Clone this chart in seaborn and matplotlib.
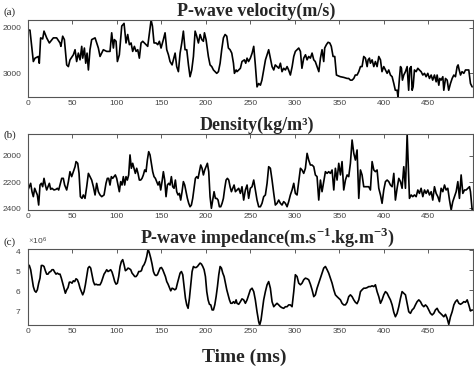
import numpy as np
import pandas as pd
import matplotlib
matplotlib.use('Agg')
import matplotlib.pyplot as plt
import seaborn as sns

# ---- P-wave velocity (m/s) ----
vel_t = [0, 2.2, 6, 7.9, 11.6, 12.7, 14.2, 16.5, 18, 21,
         24, 28.5, 32.2, 36, 37, 39, 40.9, 43.5, 45.4, 47.2,
         51, 52.9, 54.7, 56.6, 58.5, 60.4, 61.5, 63.4, 64.9, 66.4,
         67.9, 69.7, 71.6, 75.4, 79.1, 81, 84.7, 88.5, 92.2, 94.1,
         96, 97.1, 99, 100.5, 102.7, 105.4, 108, 110.2, 112.1, 114,
         115.9, 117.7, 119.6, 121.5, 123.4, 125.2, 127.1, 129, 132.7, 134.6,
         136.5, 138.4, 139.9, 141.7, 144, 145.9, 147.7, 149.6, 152.2, 154.1,
         156, 157.9, 159.7, 162, 163.5, 165.4, 167.2, 169.1, 171, 172.9,
         174.7, 176.6, 178.5, 180.4, 182.2, 184.1, 186, 187.9, 189.7, 191.6,
         193.5, 195.4, 197.2, 198.4, 200.2, 202.8, 204.7, 206.6, 208.5, 212.2,
         214.1, 216, 217.8, 219.7, 221.6, 223.5, 225.3, 227.2, 229.1, 231,
         232.1, 234,
         235, 238.8, 240.6, 243.3, 244.8, 246.3, 248, 250, 252, 253.8,
         255.6, 257.5, 259.4, 261.3, 263, 265, 267, 268.8, 270.6, 272.5,
         274.4, 276.3, 278, 280, 282, 283.8, 285.6, 287.5, 289.4, 291.3,
         293, 295, 297, 298.8, 300.6, 302.5, 304.4, 306.3, 308, 310,
         312, 313.8, 315.6, 317.5, 319.4, 321.3, 323, 325, 327, 328.8,
         330.6, 332.5, 333.6, 335.5, 337.4, 339.3, 341, 343, 344.9, 346.8,
         349.4, 351.3, 355, 358.8, 360.6, 362.5, 364.4, 366.3, 368, 370,
         371.9, 373.8, 375.6, 377.5, 379.4, 381.3, 382.4, 383.9, 385, 386.9,
         388.8, 390.6, 392.5, 394.4, 396.3, 398, 400, 401.9, 403.8, 405.6,
         407.5, 409.4, 411.3, 413, 415, 416, 417.6, 418.8, 419.9, 421,
         422.5, 424.4, 426.3, 428, 429.3, 430.8, 431.9, 433, 434.5, 436.4,
         438.3, 440, 442, 443.9, 445.8, 447.6, 449.5, 451.4, 453.3, 455,
         457, 458.9, 460, 461.9, 463, 464.5, 466.4, 467.5, 469.4, 471.3,
         473, 475, 476.9, 478.8, 480.6, 482.5, 483.6, 484.8, 486.3, 488,
         490, 491.9, 493.8, 495.6, 497.5, 499.4]
vel = [2052, 2052, 2741, 2667, 2630, 2778, 2222, 2245, 2074, 2222,
       2334, 2222, 2222, 2334, 2408, 2185, 2260, 2815, 2852, 2704,
       2593, 2482, 2741, 2556, 2704, 2408, 2667, 2445, 2778, 2556,
       2926, 2482, 2260, 2222, 2445, 2630, 2482, 2519, 2519, 2111,
       2445, 2260, 2297, 2741, 2593, 1963, 1904, 2334, 2148, 2371,
       2334, 2519, 2408, 2519, 2482, 2667, 2334, 2297, 2371, 2408,
       2111, 1830, 1963, 2334, 2334, 2371, 2297, 2445, 2260, 2111,
       2482, 2593, 2741, 2815, 2704, 2556, 2852, 2963, 2556, 2334,
       2074, 2482, 2482, 2815, 3074, 2926, 2630, 2074, 2185, 2334,
       2148, 2260, 2297, 2111, 2260, 2630, 2815, 2852, 2926, 3000,
       2963, 2778, 2482, 2222, 2148, 2185, 2445, 2482, 2556, 2778,
       3000, 2926,
       2963, 2889, 2741, 2704, 2778, 2667, 2741, 2667, 2556, 2408,
       2815, 3297, 3223, 3260, 3149, 2926, 2704, 2593, 2482, 2667,
       2852, 2926, 2815, 2852, 2889, 2778, 2963, 2889, 2926, 2852,
       2926, 3037, 2852, 2630, 2519, 2482, 2445, 2519, 2889, 2667,
       2593, 2704, 2630, 2667, 2556, 2704, 2741, 2852, 2963, 2667,
       2482, 2741, 2445, 2371, 2319, 2334, 2408, 2630, 2630, 3037,
       3060, 3074, 3089, 3112, 3112, 3149, 3149, 3112, 3037, 3037,
       2963, 2852, 2852, 2630, 2667, 2852, 2704, 2667, 2778, 2704,
       2852, 2741, 2852, 2630, 2704, 2963, 2852, 2926, 3000, 2926,
       3037, 3074, 3223, 3371, 3371, 3519, 3112, 2852, 2889, 3149,
       3037, 2963, 2852, 3371, 2889, 2852, 3371, 3297, 2926, 2963,
       2889, 2926, 2963, 3037, 3000, 3074, 3000, 3112, 3037, 3149,
       3037, 3186, 3037, 3260, 3112, 3149, 3074, 3371, 3112, 3149,
       3371, 3223, 3112, 3037, 3074, 2852, 2815, 2926, 3037, 2963,
       3000, 2926, 2926, 2926, 3223, 3297]

# ---- Density (kg/m3) ----
den_t = [0, 1.5, 3, 4.5, 6, 7.5, 9, 10.5, 12, 13.5,
         15, 16.5, 18, 19.5, 21, 22.5, 24, 25.5, 27, 29.2,
         31.5, 33, 34.5, 36, 37.9, 39.7, 41.2, 43.5, 45.4, 47.2,
         49.1, 51, 52.9, 54, 55.9, 57.4, 58.9, 60.7, 62.2, 64.1,
         66, 67.9, 69.7, 71.6, 73.5, 75.4, 77.2, 79.1, 81, 82.9,
         85.5, 87.7, 89.2, 90.7, 92.2, 93.7, 95.2, 96.7, 98.2, 99.7,
         101.2, 102.7, 104.2, 105.7, 107.2, 108.7, 110.2, 111.7, 113.2, 114.7,
         116.2, 117.7, 119.2, 120.7, 122.2, 123.7, 125.2, 126.7, 128.2, 129.7,
         131.2, 132.7, 134.2, 135.7, 137.2, 138.7, 140.2, 141.7, 143.2, 144.7,
         146.2, 147.7, 149.2, 150.7, 152.2, 153.7, 155.2, 156.7, 158.2, 159.7,
         161.2, 162.7, 164.2, 165.7, 167.2, 168.7, 170.2, 171.7, 173.2, 174.7,
         176.2, 177.7, 179.2, 180.7, 182.2, 183.7, 185.2, 186.7, 188.2, 189.7,
         191.2, 192.7, 194.2, 195.7, 197.2, 198.7, 200.2, 201.7, 203.2, 204.7,
         206.2, 207.7, 209.2, 210.7, 212.2, 213.7, 215.2, 216.7, 218.2, 219.7,
         221.2, 222.7, 224.2, 225.7, 227.2, 228.7, 230.2, 231.7, 233.2,
         235, 236.9, 238.8, 240.6, 242.5, 244.4, 246.3, 248.1, 250, 251.9,
         253.8, 255.6, 257.5, 259.4, 261.3, 263.1, 265, 266.9, 268.8, 270.6,
         272.5, 274.4, 276.3, 278.1, 280, 281.9, 283.8, 285.6, 287.5, 289.4,
         291.3, 293.1, 295, 296.9, 298.8, 300.6, 302.5, 304.4, 306.3, 308.1,
         310, 311.9, 313.8, 315.6, 317.5, 319.4, 321.3, 323.1, 325, 326.9,
         328.8, 330.6, 332.5, 334.4, 336.3, 338.1, 340, 341.9, 343.8, 345.6,
         347.5, 349.4, 351.3, 353.1, 355, 356.9, 358.8, 360.6, 362.5, 364.4,
         366.3, 368.1, 370, 371.9, 373.8, 375.6, 377.5, 379.4, 381.3, 383.1,
         385, 386.9, 388.8, 390.6, 392.5, 394.4, 396.3, 398.1, 400, 401.9,
         403.8, 405.6, 407.5, 409.4, 411.3, 413.1, 415, 416.9, 418.8, 420.6,
         422.5, 424.4, 426.3, 427.4, 428.9, 430.8, 432.6, 434.5, 436.4, 438.3,
         440.1, 442, 443.9, 445.8, 447.6, 449.5, 451.4, 453.3, 455.1, 457,
         458.9, 460.8, 462.6, 464.5, 466.4, 468.3, 470.1, 472, 473.9, 475.8,
         477.6, 479.5, 481.4, 483.3, 485.1, 487, 488.9, 490.8, 492.6, 494.5,
         496.4, 497.5, 499.4]
den = [2260, 2235, 2209, 2273, 2311, 2247, 2273, 2298, 2375, 2222,
       2209, 2235, 2171, 2222, 2260, 2235, 2209, 2255, 2247, 2260,
       2255, 2247, 2260, 2222, 2171, 2171, 2222, 2260, 2196, 2120,
       2158, 2120, 2082, 2043, 2056, 2133, 2311, 2324, 2298, 2324,
       2235, 2133, 2158, 2184, 2235, 2298, 2209, 2273, 2298, 2311,
       2298, 2209, 2171, 2171, 2222, 2158, 2171, 2158, 2145, 2171,
       2222, 2273, 2196, 2222, 2158, 2222, 2158, 2184, 2145, 1992,
       2094, 2056, 2094, 2133, 2094, 2133, 2184, 2184, 2171, 2145,
       2107, 2120, 2031, 1967, 1992, 2056, 2120, 2158, 2171, 2196,
       2222, 2196, 2260, 2196, 2120, 2184, 2311, 2222, 2209, 2222,
       2158, 2235, 2247, 2184, 2273, 2298, 2286, 2337, 2273, 2196,
       2222, 2273, 2324, 2362, 2388, 2375, 2324, 2247, 2171, 2158,
       2171, 2120, 2069, 2094, 2145, 2107, 2082, 2056, 2120, 2311,
       2400, 2337, 2273, 2324, 2324, 2337, 2388, 2388, 2362, 2324,
       2247, 2184, 2171, 2184, 2235, 2273, 2247, 2222, 2273,
       2260, 2247, 2286, 2235, 2337, 2260, 2222, 2324, 2247, 2235,
       2184, 2260, 2337, 2388, 2388, 2362, 2311, 2298, 2209, 2082,
       2094, 2184, 2286, 2375, 2362, 2337, 2362, 2375, 2349, 2362,
       2388, 2349, 2298, 2260, 2209, 2286, 2298, 2196, 2094, 2107,
       2133, 2094, 1980, 2031, 2069, 2069, 2082, 2145, 2158, 2337,
       2184, 2273, 2196, 2120, 2133, 2120, 2133, 2107, 2260, 2094,
       2184, 2056, 2145, 2043, 2260, 2184, 2145, 2158, 2056, 1878,
       1980, 2031, 1954, 2324, 2107, 2145, 2235, 2235, 2235, 2235,
       2260, 2043, 2107, 2120, 2107, 2247, 2298, 2362, 2260, 2196,
       2184, 2196, 2222, 2235, 2133, 2337, 2247, 2171, 2196, 2247,
       2082, 2247, 1832, 2031, 2324, 2298, 2311, 2298, 2311, 2260,
       2286, 2247, 2311, 2260, 2286, 2260, 2298, 2273, 2337, 2235,
       2286, 2311, 2349, 2247, 2273, 2222, 2260, 2247, 2337, 2413,
       2349, 2311, 2273, 2196, 2324, 2145, 2286, 2260, 2260, 2247,
       2235, 2273, 2413]

# ---- P-wave impedance (x 10^6) ----
imp_t = [0, 1.5, 3, 4.5, 6, 7.5, 9, 10.5, 12, 13.5,
         15, 16.5, 18, 19.5, 21, 22.5, 24, 25.5, 27, 28.5,
         30, 31.5, 33, 34.5, 36, 37.5, 39, 40.5, 42, 43.5,
         45, 46.5, 48, 49.5, 51, 52.5, 54, 55.5, 57, 58.5,
         60, 61.5, 63, 64.5, 66, 67.5, 69, 70.5, 72, 73.5,
         75, 76.5, 78, 79.5, 81, 82.5, 84, 85.5, 87, 88.5,
         90, 91.5, 93, 94.5, 96, 97.5, 99, 100.5, 102, 103.5,
         105, 106.5, 108, 109.5, 111, 112.5, 114, 115.5, 117, 118.5,
         120, 121.5, 123, 124.5, 126, 127.5, 129, 130.5, 132, 133.5,
         135, 136.5, 138, 139.5, 141, 142.5, 144, 145.5, 147, 148.5,
         150, 151.5, 153, 154.5, 156, 157.5, 159, 160.5, 162, 163.5,
         165, 166.5, 168, 169.5, 171, 172.5, 174, 175.5, 177, 178.5,
         180, 181.5, 183, 184.5, 186, 187.5, 189, 190.5, 192, 193.5,
         195, 196.5, 198, 199.5, 201, 202.5, 204, 205.5, 207, 208.5,
         210, 211.5, 213, 214.5, 216, 217.5, 219, 220.5, 222, 223.5,
         225, 226.5, 228, 229.5, 231, 232.5, 234,
         235, 236.9, 238.8, 240.6, 242.5, 244.4, 246.3, 248.1, 250, 251.9,
         253.8, 255.6, 257.5, 259.4, 260.5, 262, 263.5, 265, 266.9, 268.8,
         270.6, 272.5, 274.4, 276.3, 278.1, 280, 281.9, 283.8, 285.6, 287.5,
         289.4, 291.3, 293.1, 295, 296.9, 298.8, 300.6, 302.5, 304.4, 306.3,
         308.1, 310, 311.9, 313.8, 315.6, 317.5, 319.4, 321.3, 323.1, 325,
         326.9, 328.8, 330.6, 332.5, 334.4, 336.3, 338.1, 340, 341.9, 343.8,
         345.6, 347.5, 349.4, 351.3, 353.1, 355, 356.9, 358.8, 360.6, 362.5,
         364.4, 366.3, 368.1, 370, 371.9, 373.8, 375.6, 377.5, 379.4, 381.3,
         383.1, 385, 386.9, 388.8, 390.6, 392.5, 394.4, 396.3, 398.1, 400,
         401.9, 403.8, 405.6, 407.5, 409.4, 411.3, 413.1, 415, 416.9, 418.8,
         420.6, 422.5, 424.4, 426.3, 428.1, 430, 431.9, 433.8, 435.6, 437.5,
         439.4, 441.3, 443.1, 445, 446.9, 448.8, 450.6, 452.5, 454.4, 456.3,
         458.1, 460, 461.9, 463.8, 465.6, 467.5, 469.4, 471.3, 473.1, 475,
         476.9, 478.8, 480.6, 482.5, 484.4, 486.3, 488.1, 490, 491.9, 493.8,
         495.6, 497.5, 499.4]
imp = [4.73, 4.77, 4.98, 5.40, 5.82, 6.03, 6.10, 5.98, 5.65, 5.40,
       4.77, 4.77, 4.82, 5.03, 5.20, 5.20, 5.10, 5.07, 4.98, 4.98,
       5.10, 5.20, 5.15, 5.20, 5.20, 5.40, 5.65, 5.90, 6.15, 5.98,
       5.87, 5.60, 5.60, 5.65, 5.53, 5.57, 5.43, 5.48, 5.65, 5.90,
       6.07, 6.23, 6.07, 5.73, 5.32, 4.90, 4.82, 4.90, 5.23, 5.57,
       5.73, 5.70, 5.73, 5.73, 5.73, 5.60, 5.40, 5.20, 5.10, 4.98,
       5.07, 5.03, 4.98, 5.10, 5.32, 5.57, 5.70, 5.65, 5.32, 4.82,
       4.57, 4.48, 4.73, 5.03, 4.98, 4.90, 4.93, 4.98, 5.15, 5.23,
       5.32, 5.32, 5.23, 5.07, 5.07, 5.03, 4.82, 4.73, 4.57, 4.32,
       3.95, 4.15, 4.40, 4.70, 5.07, 5.23, 5.27, 5.23, 5.07, 4.90,
       4.87, 4.98, 5.15, 5.32, 5.57, 5.70, 5.87, 6.03, 5.90, 5.93,
       5.98, 5.93, 5.65, 5.40, 5.15, 5.07, 5.23, 5.82, 6.40, 6.73,
       6.90, 6.40, 5.73, 5.07, 4.82, 4.87, 4.87, 4.82, 4.73, 4.65,
       4.70, 4.82, 4.98, 5.32, 6.07, 6.48, 6.70, 6.73, 6.98, 6.98,
       6.73, 6.32, 5.82, 5.23, 4.82, 4.90, 5.15, 5.32, 5.65, 5.98,
       6.23, 6.48, 6.65, 6.65, 6.57, 6.65, 6.48,
       6.65, 6.70, 6.57, 6.43, 6.48, 6.65, 6.48, 6.23, 5.98, 5.90,
       6.07, 6.48, 7.07, 7.57, 7.73, 7.48, 6.98, 6.48, 6.07, 5.73,
       5.57, 5.90, 6.57, 6.82, 6.73, 6.65, 6.73, 6.82, 6.87, 6.90,
       6.82, 6.82, 6.73, 6.73, 6.82, 6.07, 5.23, 5.32, 5.65, 5.73,
       5.65, 5.48, 5.40, 5.43, 5.48, 5.70, 5.98, 6.32, 6.23, 5.90,
       5.65, 5.40, 5.15, 4.90, 4.82, 4.98, 5.15, 5.40, 5.65, 5.98,
       6.23, 6.32, 6.40, 6.48, 6.65, 6.73, 6.73, 6.60, 6.32, 6.23,
       6.32, 6.48, 6.60, 6.67, 6.48, 6.07, 5.98, 5.90, 5.90, 5.87,
       5.82, 5.82, 5.78, 5.82, 5.73, 6.07, 6.32, 6.65, 6.48, 6.23,
       6.07, 6.15, 6.32, 6.48, 6.73, 7.10, 7.32, 7.15, 6.82, 6.40,
       6.07, 6.15, 6.23, 6.65, 7.07, 7.15, 6.98, 6.90, 6.73, 6.57,
       6.48, 6.57, 6.73, 6.82, 6.73, 6.82, 6.98, 7.15, 7.23, 7.15,
       6.98, 6.90, 7.07, 7.15, 7.23, 7.32, 7.20, 7.40, 7.70, 7.32,
       7.07, 6.73, 6.57, 6.48, 6.65, 6.70, 6.65, 6.57, 6.60, 6.48,
       6.73, 7.03, 6.98]

x_ticks = [0, 50, 100, 150, 200, 250, 300, 350, 400, 450]
titles = ['P-wave velocity(m/s)', 'Density(kg/m\u00b3)',
          r'P-wave impedance(m.s$^{\mathbf{-1}}$.kg.m$^{\mathbf{-3}}$)']
tags = ['(a)', '(b)', '(c)']

sns.set_style('white')
plt.rcParams['font.family'] = ['Liberation Sans', 'DejaVu Sans']
plt.rcParams['mathtext.fontset'] = 'custom'
plt.rcParams['mathtext.rm'] = 'Liberation Serif'
plt.rcParams['mathtext.bf'] = 'Liberation Serif:bold'

fig = plt.figure(figsize=(4.74, 3.68), dpi=100)
W, H = 474.0, 368.0
left, right = 28 / W, 472.7 / W
boxes = [(20, 97), (134, 210), (249, 325)]
axes = [fig.add_axes([left, 1 - b / H, right - left, (b - t) / H]) for t, b in boxes]

series = [(vel_t, np.array(vel)), (den_t, np.array(den)), (imp_t, np.array(imp) * 1e6)]
for ax, (t, v) in zip(axes, series):
    df = pd.DataFrame({'t': t, 'v': v})
    sns.lineplot(data=df, x='t', y='v', ax=ax, color='black', linewidth=1.2,
                 estimator=None, sort=False)
    ax.set_xlim(0, 500)
    ax.set_ylim(v.max(), v.min())
    ax.set_xticks(x_ticks)
    ax.set_xlabel('')
    ax.set_ylabel('')
    ax.tick_params(direction='in', top=True, right=True, length=3, width=0.6,
                   colors='#444444', labelsize=6)
    ax.tick_params(axis='y', pad=5)
    ax.tick_params(axis='x', pad=2.5)
    for s in ax.spines.values():
        s.set_color('#555555')
        s.set_linewidth(0.8)

axes[0].set_yticks([2000, 3000])
axes[1].set_yticks([2000, 2200, 2400])
axes[2].set_yticks([4e6, 5e6, 6e6, 7e6])
axes[2].ticklabel_format(axis='y', style='sci', scilimits=(0, 0), useMathText=True)
axes[2].yaxis.get_offset_text().set_fontsize(6)
axes[2].yaxis.get_offset_text().set_color('#444444')

title_x = [256 / W, 257 / W, 267 / W]
title_base = [15.5, 130, 243]
tag_base = [15, 138, 245]
for i in range(3):
    fig.text(title_x[i], 1 - title_base[i] / H, titles[i], ha='center', va='baseline',
             family='Liberation Serif', fontweight='bold', fontsize=13)
    fig.text(3 / W, 1 - tag_base[i] / H, tags[i], ha='left', va='baseline',
             family='Liberation Serif', fontsize=8)

fig.text(244 / W, 1 - 361.5 / H, 'Time (ms)', ha='center', va='baseline',
         family='Liberation Serif', fontweight='bold', fontsize=14)

fig.savefig('out.png', dpi=100)
